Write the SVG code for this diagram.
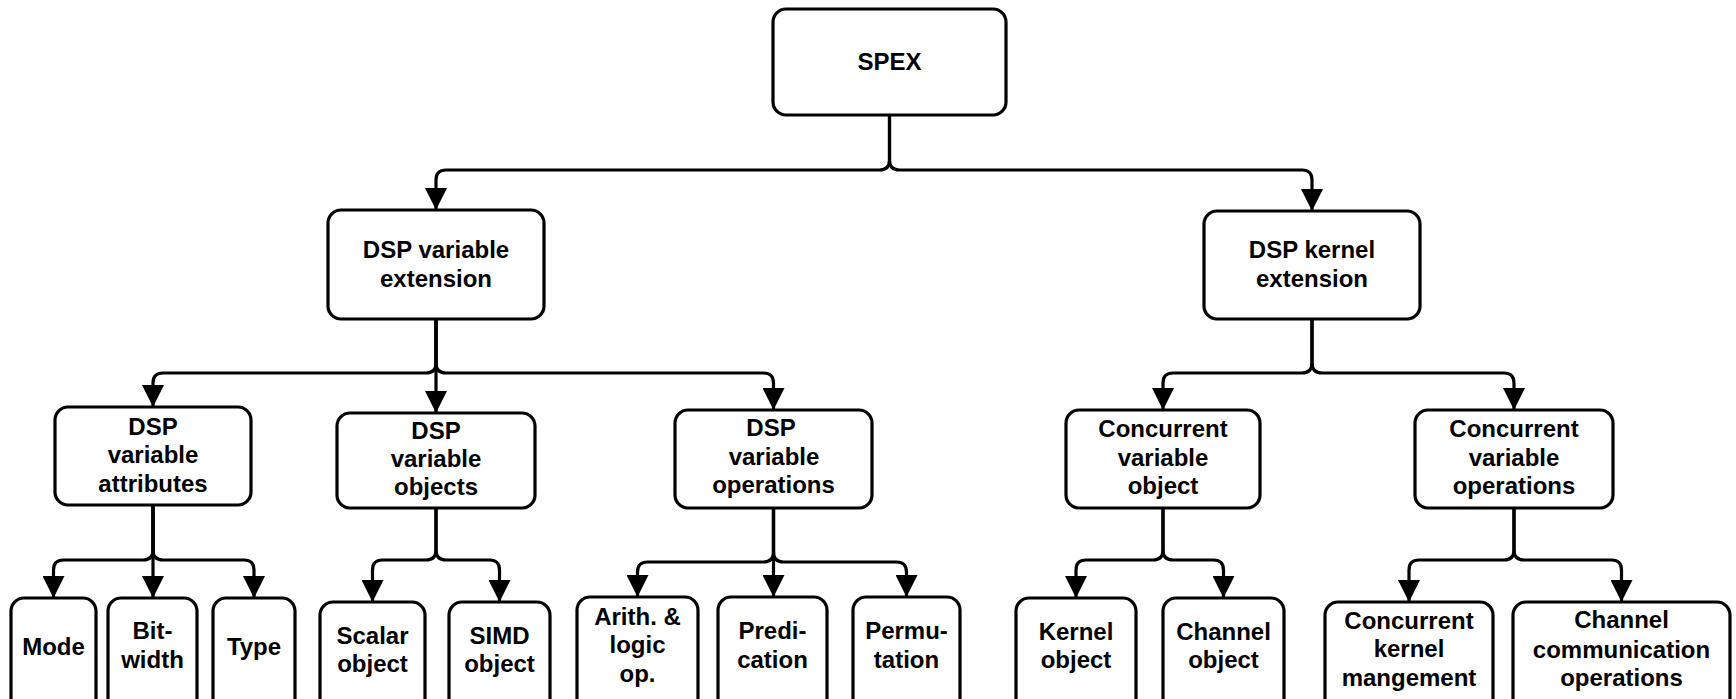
<svg xmlns="http://www.w3.org/2000/svg" width="1736" height="699" viewBox="0 0 1736 699">
<style>
.box{fill:#fff;stroke:#000;stroke-width:3.2}
.lbl{font-family:"Liberation Sans",Arial,sans-serif;font-weight:bold;font-size:24px;text-anchor:middle;fill:#000}
.con{fill:none;stroke:#000;stroke-width:3.2;marker-end:url(#arr)}
</style>
<defs>
<marker id="arr" markerUnits="userSpaceOnUse" markerWidth="22" markerHeight="22" refX="21" refY="10.5" orient="auto" viewBox="0 0 21 21">
<path d="M0,0 L21,10.5 L0,21 z" fill="#000"/>
</marker>
</defs>
<g id="connectors">
<path class="con" d="M889.5,115 V160 Q889.5,170 879.5,170 H446 Q436,170 436,180 V210"/>
<path class="con" d="M889.5,115 V160 Q889.5,170 899.5,170 H1302 Q1312,170 1312,180 V211"/>
<path class="con" d="M436,319 V363 Q436,373 426,373 H163 Q153,373 153,383 V407"/>
<path class="con" d="M436,319 V413"/>
<path class="con" d="M436,319 V363 Q436,373 446,373 H763.5 Q773.5,373 773.5,383 V410"/>
<path class="con" d="M1312,319 V363 Q1312,373 1302,373 H1173 Q1163,373 1163,383 V410"/>
<path class="con" d="M1312,319 V363 Q1312,373 1322,373 H1504 Q1514,373 1514,383 V410"/>
<path class="con" d="M153,505 V550 Q153,560 143,560 H63.5 Q53.5,560 53.5,570 V598"/>
<path class="con" d="M153,505 V598"/>
<path class="con" d="M153,505 V550 Q153,560 163,560 H244 Q254,560 254,570 V598"/>
<path class="con" d="M436,508 V550 Q436,560 426,560 H382.5 Q372.5,560 372.5,570 V602"/>
<path class="con" d="M436,508 V550 Q436,560 446,560 H489.5 Q499.5,560 499.5,570 V602"/>
<path class="con" d="M773.5,508 V552 Q773.5,562 763.5,562 H647.5 Q637.5,562 637.5,572 V597"/>
<path class="con" d="M773.5,508 V597"/>
<path class="con" d="M773.5,508 V552 Q773.5,562 783.5,562 H896.5 Q906.5,562 906.5,572 V597"/>
<path class="con" d="M1163,508 V550 Q1163,560 1153,560 H1086 Q1076,560 1076,570 V598"/>
<path class="con" d="M1163,508 V550 Q1163,560 1173,560 H1213.5 Q1223.5,560 1223.5,570 V598"/>
<path class="con" d="M1514,508 V550 Q1514,560 1504,560 H1419 Q1409,560 1409,570 V602"/>
<path class="con" d="M1514,508 V550 Q1514,560 1524,560 H1611.5 Q1621.5,560 1621.5,570 V602"/>
</g>
<g id="spex"><rect class="box" x="773" y="9" width="233" height="106" rx="13"/><text class="lbl" x="889.5" y="70">SPEX</text></g>
<g id="dsp_var_ext"><rect class="box" x="328" y="210" width="216" height="109" rx="13"/><text class="lbl"><tspan x="436" y="258">DSP variable</tspan><tspan x="436" y="287">extension</tspan></text></g>
<g id="dsp_kernel_ext"><rect class="box" x="1204" y="211" width="216" height="108" rx="13"/><text class="lbl"><tspan x="1312" y="258">DSP kernel</tspan><tspan x="1312" y="287">extension</tspan></text></g>
<g id="dsp_var_attr"><rect class="box" x="55" y="407" width="196" height="98" rx="13"/><text class="lbl"><tspan x="153" y="435">DSP</tspan><tspan x="153" y="463">variable</tspan><tspan x="153" y="492">attributes</tspan></text></g>
<g id="dsp_var_obj"><rect class="box" x="337" y="413" width="198" height="95" rx="13"/><text class="lbl"><tspan x="436" y="439">DSP</tspan><tspan x="436" y="467">variable</tspan><tspan x="436" y="495">objects</tspan></text></g>
<g id="dsp_var_ops"><rect class="box" x="675" y="410" width="197" height="98" rx="13"/><text class="lbl"><tspan x="771" y="436">DSP</tspan><tspan x="774" y="465">variable</tspan><tspan x="773.5" y="493">operations</tspan></text></g>
<g id="conc_var_obj"><rect class="box" x="1066" y="410" width="194" height="98" rx="13"/><text class="lbl"><tspan x="1163" y="437">Concurrent</tspan><tspan x="1163" y="466">variable</tspan><tspan x="1163" y="494">object</tspan></text></g>
<g id="conc_var_ops"><rect class="box" x="1415" y="410" width="198" height="98" rx="13"/><text class="lbl"><tspan x="1514" y="437">Concurrent</tspan><tspan x="1514" y="466">variable</tspan><tspan x="1514" y="494">operations</tspan></text></g>
<g id="mode"><rect class="box" x="11" y="598" width="85" height="120" rx="13"/><text class="lbl" x="53.5" y="655">Mode</text></g>
<g id="bitwidth"><rect class="box" x="108" y="598" width="89" height="120" rx="13"/><text class="lbl"><tspan x="152.5" y="639">Bit-</tspan><tspan x="152.5" y="668">width</tspan></text></g>
<g id="type"><rect class="box" x="213" y="598" width="82" height="120" rx="13"/><text class="lbl" x="254" y="655">Type</text></g>
<g id="scalar"><rect class="box" x="320" y="602" width="105" height="120" rx="13"/><text class="lbl"><tspan x="372.5" y="644">Scalar</tspan><tspan x="372.5" y="672">object</tspan></text></g>
<g id="simd"><rect class="box" x="449" y="602" width="101" height="120" rx="13"/><text class="lbl"><tspan x="499.5" y="644">SIMD</tspan><tspan x="499.5" y="672">object</tspan></text></g>
<g id="arith"><rect class="box" x="577" y="597" width="121" height="120" rx="13"/><text class="lbl"><tspan x="637.5" y="625">Arith. &amp;</tspan><tspan x="637.5" y="653">logic</tspan><tspan x="637.5" y="682">op.</tspan></text></g>
<g id="predication"><rect class="box" x="718" y="597" width="109" height="120" rx="13"/><text class="lbl"><tspan x="772.5" y="639">Predi-</tspan><tspan x="772.5" y="668">cation</tspan></text></g>
<g id="permutation"><rect class="box" x="853" y="597" width="107" height="120" rx="13"/><text class="lbl"><tspan x="906.5" y="639">Permu-</tspan><tspan x="906.5" y="668">tation</tspan></text></g>
<g id="kernel_obj"><rect class="box" x="1016" y="598" width="120" height="120" rx="13"/><text class="lbl"><tspan x="1076" y="640">Kernel</tspan><tspan x="1076" y="668">object</tspan></text></g>
<g id="channel_obj"><rect class="box" x="1163" y="598" width="121" height="120" rx="13"/><text class="lbl"><tspan x="1223.5" y="640">Channel</tspan><tspan x="1223.5" y="668">object</tspan></text></g>
<g id="conc_kernel_mgmt"><rect class="box" x="1325" y="602" width="168" height="120" rx="13"/><text class="lbl"><tspan x="1409" y="629">Concurrent</tspan><tspan x="1409" y="657">kernel</tspan><tspan x="1409" y="686">mangement</tspan></text></g>
<g id="channel_comm_ops"><rect class="box" x="1513" y="602" width="217" height="120" rx="13"/><text class="lbl"><tspan x="1621.5" y="628">Channel</tspan><tspan x="1621.5" y="658">communication</tspan><tspan x="1621.5" y="686">operations</tspan></text></g>
</svg>
